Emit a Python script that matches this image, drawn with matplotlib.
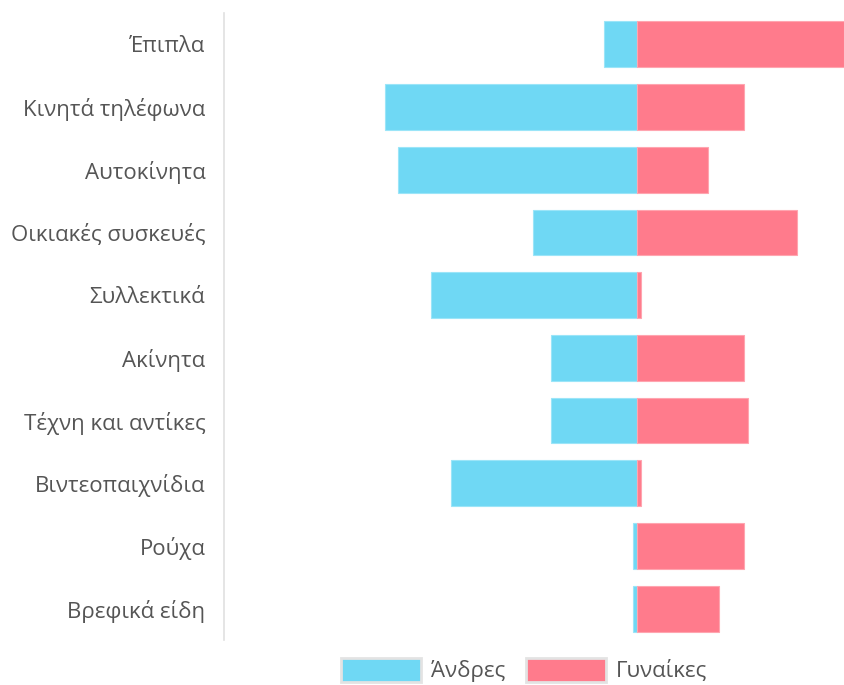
import matplotlib
matplotlib.use('Agg')
import matplotlib.pyplot as plt
from matplotlib.patches import Patch

plt.rcParams['font.family'] = ['Open Sans', 'DejaVu Sans']

# product categories, top to bottom
categories = ['Έπιπλα', 'Κινητά τηλέφωνα', 'Αυτοκίνητα', 'Οικιακές συσκευές',
              'Συλλεκτικά', 'Ακίνητα', 'Τέχνη και αντίκες', 'Βιντεοπαιχνίδια',
              'Ρούχα', 'Βρεφικά είδη']
# values (men drawn to the left)
men = [4.9, 36.6, 34.8, 15.1, 30.0, 12.6, 12.6, 27.0, 0.7, 0.7]
women = [30.0, 15.5, 10.2, 23.2, 0.6, 15.5, 16.1, 0.6, 15.5, 11.9]
series_names = ['Άνδρες', 'Γυναίκες']

men_color = '#6fd8f4'
women_color = '#ff7b8c'
text_color = '#555555'

fig = plt.figure(figsize=(8.44, 6.85), dpi=100)
ax = fig.add_axes([224 / 844, 45 / 685, 620 / 844, 627 / 685])

y = list(range(len(categories)))
ax.barh(y, [-m for m in men], height=0.73, color=men_color,
        edgecolor='#9be5f8', linewidth=0.8)
ax.barh(y, women, height=0.73, color=women_color,
        edgecolor='#ffa5b0', linewidth=0.8)

ax.set_xlim(-60, 30)
ax.set_ylim(len(categories) - 0.5, -0.5)
ax.set_yticks(y)
ax.set_yticklabels(categories, fontsize=16, color=text_color)
ax.tick_params(axis='y', length=0, pad=13.5)
ax.set_xticks([])

for side in ['top', 'right', 'bottom']:
    ax.spines[side].set_visible(False)
ax.spines['left'].set_color('#e0e0e0')
ax.spines['left'].set_linewidth(1.2)

handles = [Patch(facecolor=men_color, edgecolor='#e3e3e3', linewidth=2),
           Patch(facecolor=women_color, edgecolor='#e3e3e3', linewidth=2)]
leg = fig.legend(handles, series_names, loc='center', bbox_to_anchor=(524 / 844, 15 / 685),
                 ncol=2, frameon=False, fontsize=16, handlelength=3.6,
                 handleheight=1.3, handletextpad=0.45, columnspacing=0.95)
for t in leg.get_texts():
    t.set_color(text_color)

fig.savefig('out.png', dpi=100)
